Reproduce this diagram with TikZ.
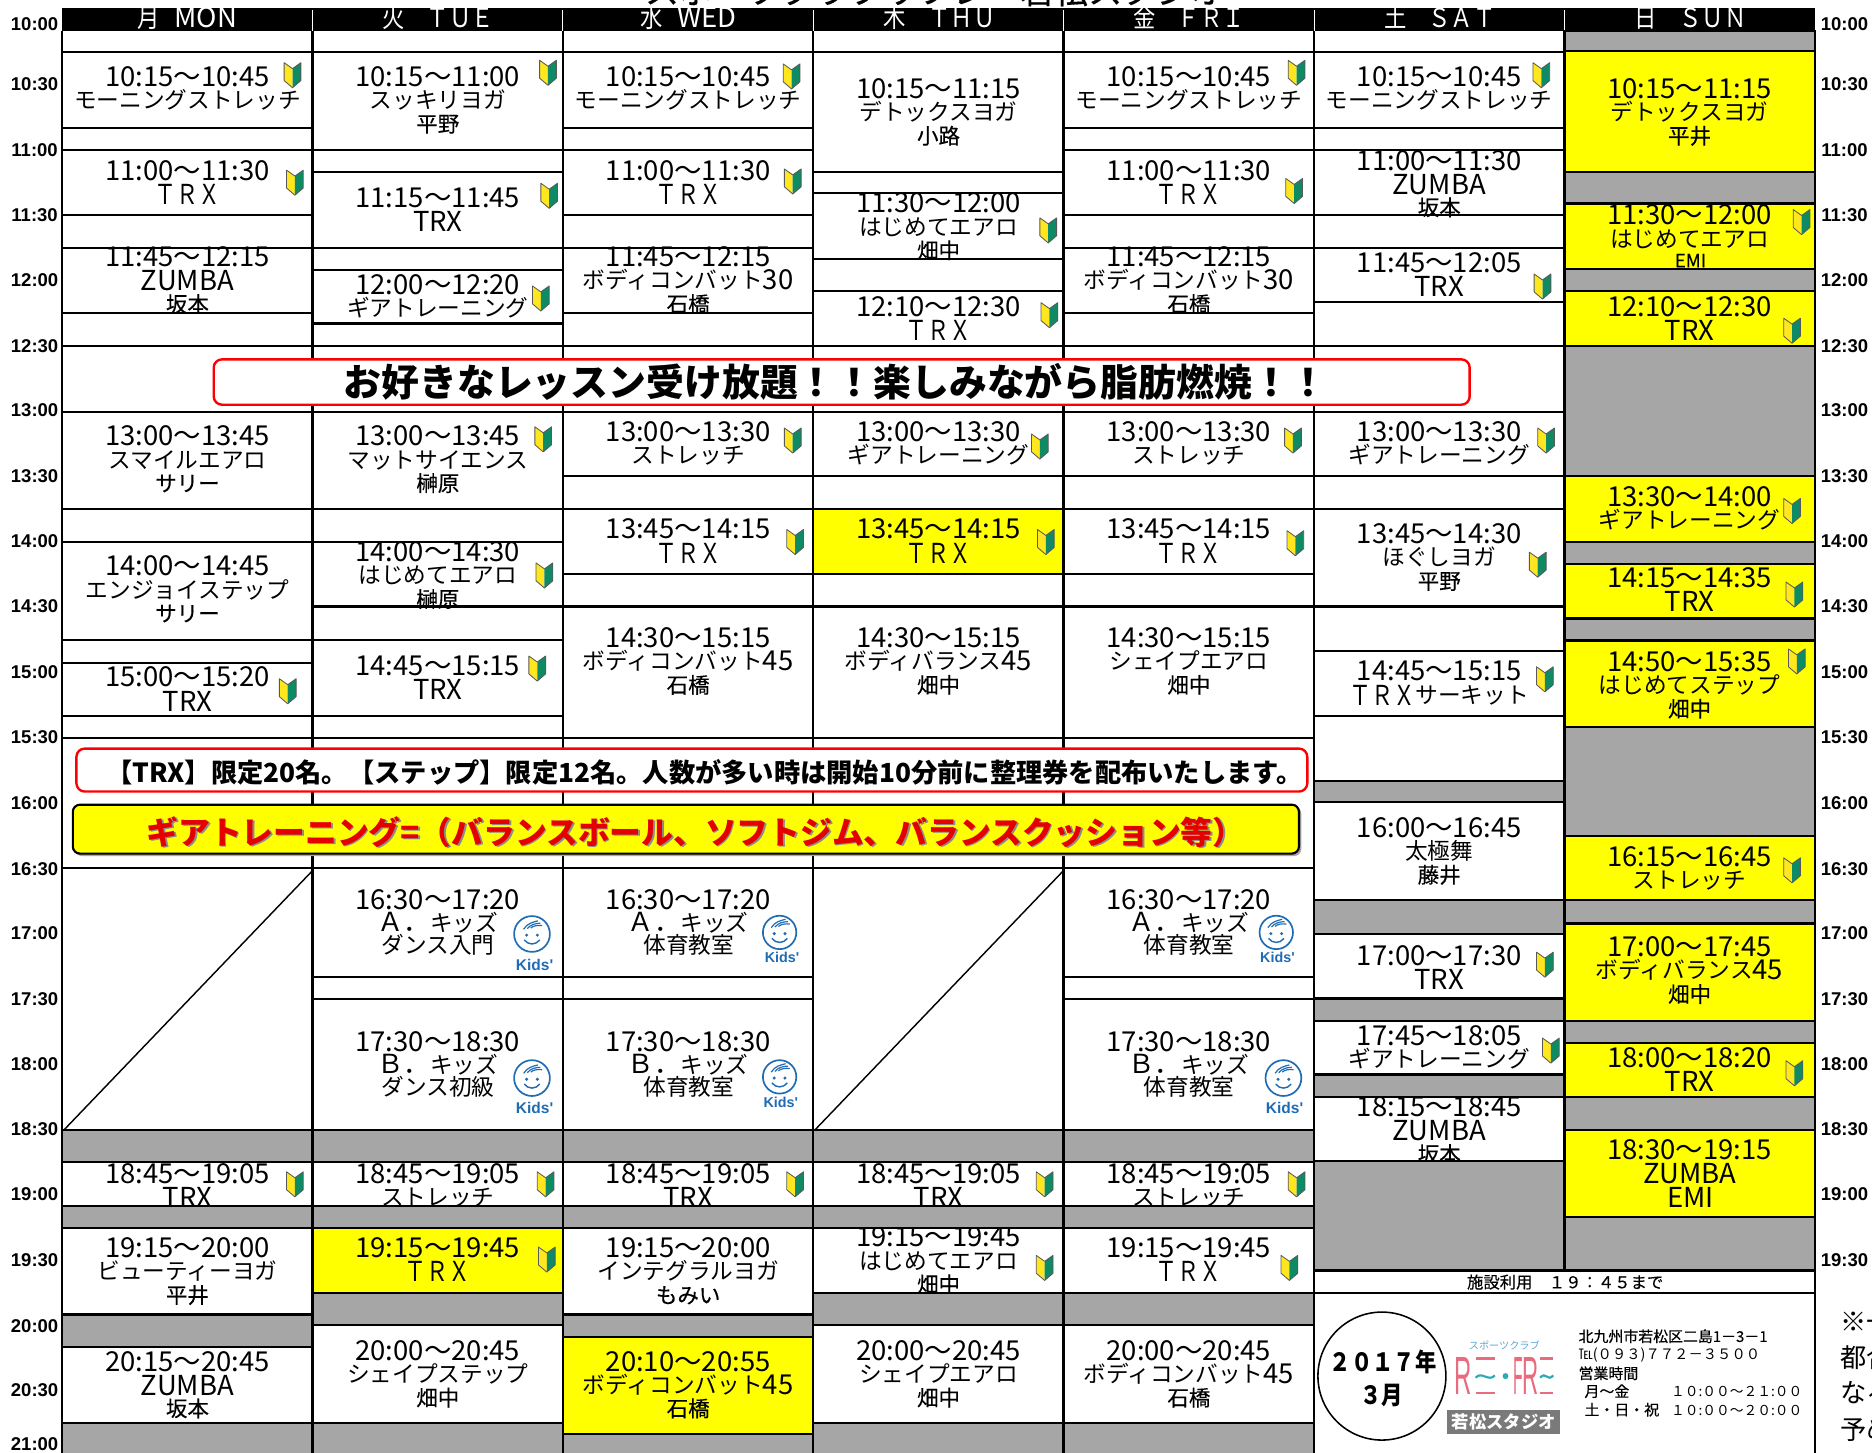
\documentclass[tikz,border=0pt]{standalone}
\usepackage{fontspec}
\setmainfont{Noto Sans CJK JP}
\newfontfamily\latf{Liberation Sans}
\newfontfamily\insf[FakeBold=0.35]{Noto Sans CJK JP}
\definecolor{grayc}{HTML}{A6A6A6}
\definecolor{yelc}{HTML}{FFFF00}
\definecolor{wky}{HTML}{FFE61E}
\definecolor{wkg}{HTML}{0E8A64}
\definecolor{kidb}{HTML}{1F6CB4}
\definecolor{pinkc}{HTML}{E96C7E}
\definecolor{tealc}{HTML}{2FA9B5}
\definecolor{lblue}{HTML}{5FA8D8}
\tikzset{
 rule/.style={line width=1.8pt,black},
 tm/.style={anchor=base,inner sep=0pt,font=\fontsize{23}{23}\selectfont},
 nm/.style={anchor=base,inner sep=0pt,font=\fontsize{19}{19}\selectfont},
 ins/.style={anchor=base,inner sep=0pt,font=\insf\fontsize{18}{18}\selectfont},
 lab/.style={anchor=center,inner sep=0pt,font=\latf\bfseries\fontsize{15.5}{15.5}\selectfont},
 day/.style={anchor=base,inner sep=0pt,text=white,font=\fontsize{22}{22}\selectfont},
 addr/.style={anchor=base west,inner sep=0pt,font=\insf\fontsize{12.5}{12.5}\selectfont},
}
\newcommand\Lt[1]{\raisebox{-1.6pt}{\fontsize{23}{23}\selectfont #1}}
\newcommand\FW[1]{\raisebox{-1.6pt}{\scalebox{.8}[1]{\fontsize{23}{23}\selectfont #1}}}
\newcommand\Dg[1]{\raisebox{-.8pt}{\fontsize{23}{23}\selectfont #1}}
\newcommand\Kt[1]{{\fontsize{22}{22}\selectfont #1}}
\newcommand\ctw[3]{%
 \node[tm] at ({157+209.7*(#1-1)},#2+8.4) {#3};}
\newcommand\cb[4]{\ctw{#1}{#2}{#3}\node[nm] at ({157+209.7*(#1-1)},#2+27) {#4};}
\newcommand\cc[5]{\cb{#1}{#2}{#3}{#4}\node[ins] at ({157+209.7*(#1-1)},#2+46.5) {#5};}
\newcommand\wk[2]{\begin{scope}[shift={(#1,#2)}]
 \fill[wky] (-7,-10.5)--(0,-5.5)--(0,10.5)--(-7,4.5)--cycle;
 \fill[wkg] (7,-10.5)--(0,-5.5)--(0,10.5)--(7,4.5)--cycle;
 \draw[black!65,line width=.7pt,line join=round] (-7,-10.5)--(0,-5.5)--(7,-10.5)--(7,4.5)--(0,10.5)--(-7,4.5)--cycle;
\end{scope}}
\newcommand\kid[6]{% cx cy r kx ky
 \begin{scope}[shift={(#1,#2)},kidb]
 \draw[line width=1.4pt] (0,0) circle (#3);
 \draw[line width=1pt] (-7,-4) .. controls (-4,-9) and (1,-10) .. (5,-11);
 \draw[line width=1pt] (-4,-4.5) .. controls (-1,-8) and (3,-9) .. (7,-9);
 \draw[line width=1pt] (-1,-5) .. controls (1,-7) and (5,-7.5) .. (8.5,-7);
 \fill (-4.5,1) circle (1.4); \fill (4.5,1) circle (1.4);
 \draw[line width=1.2pt] (-6.5,5) .. controls (-3,9.5) and (3,9.5) .. (6.5,5);
 \end{scope}
 \node[anchor=center,inner sep=0pt,text=kidb,font=\latf\bfseries\fontsize{#6}{#6}\selectfont] at (#4,#5) {Kids'};}
\def\Ylist{7/43/144,7/170.5/225.6,7/244/289.5,7/398.6/454,7/472.5/518,7/536.5/609,7/700/754,7/773.5/855,7/873.5/919,7/946.7/1019.5,4/426/481,2/1028.3/1083,3/1119.6/1201}
\def\Wlist{1/43.3/107,1/125.6/180,1/207.5/262,1/345/426,1/454/536,1/555/600,1/973.6/1010,1/1028.3/1101,1/1128/1192,
2/43.3/125.6,2/144/207.5,2/226/271,2/345/426,2/454/508,2/536/600,2/727/818,2/836.5/946.6,2/973.6/1010,2/1110/1192,
3/43.3/107,3/125.6/180,3/207.5/262,3/345/398.6,3/426/481,3/508/618,3/727/818,3/836.5/946.6,3/973.6/1010,3/1028.3/1101,
4/43.3/144,4/162/217,4/244/289.5,4/345/398.6,4/508/618,4/973.6/1010,4/1028.3/1083,4/1110/1192,
5/43.3/107,5/125.6/180,5/207.5/262,5/345/398.6,5/426/481,5/508/618,5/727/818,5/836.5/946.6,5/973.6/1010,5/1028.3/1083,5/1110/1192,
6/43.3/107,6/125.6/180,6/207.5/253,6/345/398.6,6/426/508,6/545/600,6/672/754,6/782/836.4,6/855.5/900,6/919/972.8}
\def\Glist{1/946.6/973.6,2/946.6/973.6,3/946.6/973.6,4/946.6/973.6,5/946.6/973.6,
1/1010/1028.3,2/1010/1028.3,3/1010/1028.3,4/1010/1028.3,5/1010/1028.3,
1/1101/1128,2/1083/1110,3/1101/1119.6,4/1083/1110,5/1083/1110,
1/1192/1230,2/1192/1230,3/1201/1230,4/1192/1230,5/1192/1230,
6/654/672,6/754/782,6/836.4/855.5,6/900/919,6/972.8/1064,
7/26/43,7/144/170.5,7/225.6/244,7/289.5/398.6,7/454/472.5,7/518/536.5,7/609/700,7/754/773.5,7/855/873.5,7/919/946.7,7/1019.5/1064}
\begin{document}
\begin{tikzpicture}[x=1pt,y=-1pt]
\clip (0,0) rectangle (1568,1217);
\fill[white] (0,0) rectangle (1568,1217);
% clipped title above the header
\node[anchor=base,inner sep=0pt,font=\insf\fontsize{28.6}{28.6}\selectfont] at (783,3) {スポーツクラブリフレ　若松スタジオ};
% header band
\fill[black] (52,7) rectangle (1520,26);
\foreach \i in {1,...,6}{\draw[white,line width=.6pt] ({52+209.7*\i},8) -- ({52+209.7*\i},26);}
\node[day] at (157,23) {\scalebox{.85}[1]{月}\hspace{.55em}{\fontsize{23}{23}\selectfont MON}};
\node[day] at (367,23) {\scalebox{.85}[1]{火　ＴＵＥ}};
\node[day] at (577,23) {\scalebox{.85}[1]{水}\hspace{.55em}{\fontsize{23}{23}\selectfont WED}};
\node[day] at (787,23) {\scalebox{.85}[1]{木　ＴＨＵ}};
\node[day] at (996,23) {\scalebox{.85}[1]{金　ＦＲＩ}};
\node[day] at (1206,23) {\scalebox{.85}[1]{土　ＳＡＴ}};
\node[day] at (1416,23) {\scalebox{.85}[1]{日　ＳＵＮ}};
% time labels
\foreach \t/\y in {10:00/20.6,10:30/70.6,11:00/125.6,11:30/180.6,12:00/234.6,12:30/289.6,13:00/343.6,13:30/398.6,14:00/453.6,14:30/507.6,15:00/562.6,15:30/617.6,16:00/672.6,16:30/727.6,17:00/781.6,17:30/836.6,18:00/891.6,18:30/945.6,19:00/1000.6,19:30/1055.6,20:00/1110.6,20:30/1164.6,21:00/1209.6}{
 \node[lab] at (29,\y) {\t};}
\foreach \t/\y in {10:00/20.6,10:30/70.6,11:00/125.6,11:30/180.6,12:00/234.6,12:30/289.6,13:00/343.6,13:30/398.6,14:00/453.6,14:30/507.6,15:00/562.6,15:30/617.6,16:00/672.6,16:30/727.6,17:00/781.6,17:30/836.6,18:00/891.6,18:30/945.6,19:00/1000.6,19:30/1055.6}{
 \node[lab] at (1545,\y) {\t};}
% yellow fills
\foreach \c/\t/\b in \Ylist {\fill[yelc] ({52+209.7*(\c-1)},\t) rectangle ({52+209.7*\c},\b);}
% Monday
\cb{1}{64}{10:15～10:45}{モーニングストレッチ}
\cb{1}{143}{11:00～11:30}{\FW{ＴＲＸ}}
\cc{1}{215}{11:45～12:15}{\Lt{ZUMBA}}{坂本}
\cc{1}{365}{13:00～13:45}{スマイルエアロ}{サリー}
\cc{1}{474}{14:00～14:45}{エンジョイステップ}{サリー}
\cb{1}{567}{15:00～15:20}{\Lt{TRX}}
\cb{1}{983}{18:45～19:05}{\Lt{TRX}}
\cc{1}{1045}{19:15～20:00}{ビューティーヨガ}{平井}
\cc{1}{1140}{20:15～20:45}{\Lt{ZUMBA}}{坂本}
% Tuesday
\cc{2}{64}{10:15～11:00}{スッキリヨガ}{平野}
\cb{2}{165}{11:15～11:45}{\Lt{TRX}}
\cb{2}{238}{12:00～12:20}{ギアトレーニング}
\cc{2}{365}{13:00～13:45}{マットサイエンス}{榊原}
\cc{2}{462}{14:00～14:30}{はじめてエアロ}{榊原}
\cb{2}{557}{14:45～15:15}{\Lt{TRX}}
\cb{2}{753}{16:30～17:20}{\Kt{Ａ．}キッズ}
\node[nm] at (367,799) {ダンス入門};
\cb{2}{872}{17:30～18:30}{\Kt{Ｂ．}キッズ}
\node[nm] at (367,918) {ダンス初級};
\cb{2}{983}{18:45～19:05}{ストレッチ}
\cb{2}{1045}{19:15～19:45}{\FW{ＴＲＸ}}
\cc{2}{1131}{20:00～20:45}{シェイプステップ}{畑中}
% Wednesday
\cb{3}{64}{10:15～10:45}{モーニングストレッチ}
\cb{3}{143}{11:00～11:30}{\FW{ＴＲＸ}}
\cc{3}{215}{11:45～12:15}{ボディコンバット\Dg{30}}{石橋}
\cb{3}{361}{13:00～13:30}{ストレッチ}
\cb{3}{443}{13:45～14:15}{\FW{ＴＲＸ}}
\cc{3}{534}{14:30～15:15}{ボディコンバット\Dg{45}}{石橋}
\cb{3}{753}{16:30～17:20}{\Kt{Ａ．}キッズ}
\node[nm] at (577,799) {体育教室};
\cb{3}{872}{17:30～18:30}{\Kt{Ｂ．}キッズ}
\node[nm] at (577,918) {体育教室};
\cb{3}{983}{18:45～19:05}{\Lt{TRX}}
\cc{3}{1045}{19:15～20:00}{インテグラルヨガ}{もみい}
\cc{3}{1140}{20:10～20:55}{ボディコンバット\Dg{45}}{石橋}
% Thursday
\cc{4}{74}{10:15～11:15}{デトックスヨガ}{小路}
\cc{4}{170}{11:30～12:00}{はじめてエアロ}{畑中}
\cb{4}{257}{12:10～12:30}{\FW{ＴＲＸ}}
\cb{4}{361}{13:00～13:30}{ギアトレーニング}
\cb{4}{443}{13:45～14:15}{\FW{ＴＲＸ}}
\cc{4}{534}{14:30～15:15}{ボディバランス\Dg{45}}{畑中}
\cb{4}{983}{18:45～19:05}{\Lt{TRX}}
\cc{4}{1036}{19:15～19:45}{はじめてエアロ}{畑中}
\cc{4}{1131}{20:00～20:45}{シェイプエアロ}{畑中}
% Friday
\cb{5}{64}{10:15～10:45}{モーニングストレッチ}
\cb{5}{143}{11:00～11:30}{\FW{ＴＲＸ}}
\cc{5}{215}{11:45～12:15}{ボディコンバット\Dg{30}}{石橋}
\cb{5}{361}{13:00～13:30}{ストレッチ}
\cb{5}{443}{13:45～14:15}{\FW{ＴＲＸ}}
\cc{5}{534}{14:30～15:15}{シェイプエアロ}{畑中}
\cb{5}{753}{16:30～17:20}{\Kt{Ａ．}キッズ}
\node[nm] at (996,799) {体育教室};
\cb{5}{872}{17:30～18:30}{\Kt{Ｂ．}キッズ}
\node[nm] at (996,918) {体育教室};
\cb{5}{983}{18:45～19:05}{ストレッチ}
\cb{5}{1045}{19:15～19:45}{\FW{ＴＲＸ}}
\cc{5}{1131}{20:00～20:45}{ボディコンバット\Dg{45}}{石橋}
% Saturday
\cb{6}{64}{10:15～10:45}{モーニングストレッチ}
\cc{6}{134}{11:00～11:30}{\Lt{ZUMBA}}{坂本}
\cb{6}{220}{11:45～12:05}{\Lt{TRX}}
\cb{6}{361}{13:00～13:30}{ギアトレーニング}
\cc{6}{447}{13:45～14:30}{ほぐしヨガ}{平野}
\cb{6}{562}{14:45～15:15}{\FW{ＴＲＸ}サーキット}
\cc{6}{693}{16:00～16:45}{太極舞}{藤井}
\cb{6}{800}{17:00～17:30}{\Lt{TRX}}
\cb{6}{867}{17:45～18:05}{ギアトレーニング}
\cc{6}{927}{18:15～18:45}{\Lt{ZUMBA}}{坂本}
% Sunday
\cc{7}{74}{10:15～11:15}{デトックスヨガ}{平井}
\cb{7}{180}{11:30～12:00}{はじめてエアロ}
\node[anchor=base,inner sep=0pt,font=\insf\fontsize{15.5}{15.5}\selectfont] at (1416,224) {EMI};
\cb{7}{257}{12:10～12:30}{\Lt{TRX}}
\cb{7}{416}{13:30～14:00}{ギアトレーニング}
\cb{7}{484}{14:15～14:35}{\Lt{TRX}}
\cc{7}{554}{14:50～15:35}{はじめてステップ}{畑中}
\cb{7}{717}{16:15～16:45}{ストレッチ}
\cc{7}{793}{17:00～17:45}{ボディバランス\Dg{45}}{畑中}
\cb{7}{886}{18:00～18:20}{\Lt{TRX}}
\cb{7}{963}{18:30～19:15}{\Lt{ZUMBA}}
\node[tm] at (1416,1011) {EMI};
% gray cells
\foreach \c/\t/\b in \Glist {\draw[rule,fill=grayc] ({52+209.7*(\c-1)},\t) rectangle ({52+209.7*\c},\b);}
% cell outlines
\foreach \c/\t/\b in \Ylist {\draw[rule] ({52+209.7*(\c-1)},\t) rectangle ({52+209.7*\c},\b);}
\foreach \c/\t/\b in \Wlist {\draw[rule] ({52+209.7*(\c-1)},\t) rectangle ({52+209.7*\c},\b);}
% full rules
\draw[rule] (52,289.5) -- (1311,289.5);
\draw[rule] (52,345) -- (1311,345);
\draw[rule] (52,618) -- (1101,618);
\draw[rule] (52,727) -- (891,727);
\draw[rule] (52,26) -- (52,1217);
\foreach \x in {261.7,471.4,681.1,890.8,1100.5,1520}{\draw[rule] (\x,26) -- (\x,1217);}
\draw[rule] (1310.5,26) -- (1310.5,1064);
% diagonals
\draw[line width=1.2pt] (54,946) -- (262,729);
\draw[line width=1.2pt] (683,946) -- (891,729);
% wakaba marks
\foreach \x/\y in {245/63,247/153,241/579,247/992,
 459/61,460/164,453/250,455/368,456/482,450/560,457/992,458/1055,
 663/64,664/152,664/369,666/454,666/992,
 878/193,879/264,871/374,876/454,875/992,875/1062,
 1086/61,1084/160,1083/369,1085/455,1086/992,1080/1062,
 1291/63,1292/240,1295/369,1288/473,1294/569,1294/808,1299/880,
 1509/186,1501/277,1501/428,1503/498,1505/554,1501/729,1503/899}{\wk{\x}{\y}}
% kids marks
\kid{445.6}{782.3}{15}{447.8}{808}{13}
\kid{445.6}{903}{15}{447.8}{928}{13}
\kid{653}{781}{14}{655}{802}{12}
\kid{653}{902}{14}{654}{923}{12}
\kid{1069}{781}{14}{1070}{802}{12}
\kid{1075}{903}{15}{1076}{928}{13}
% banner
\draw[red,line width=2pt,rounded corners=7pt,fill=white] (179,301) rectangle (1231,339);
\node[anchor=base,inner sep=0pt,font=\bfseries\fontsize{31.7}{31.7}\selectfont] at (700,332) {お好きなレッスン受け放題！！楽しみながら脂肪燃焼！！};
\draw[red,line width=2pt,rounded corners=7pt,fill=white] (64,627) rectangle (1095,663);
\node[anchor=base,inner sep=0pt,font=\bfseries\fontsize{22}{22}\selectfont] at (590,655.5) {【TRX】限定20名。【ステップ】限定12名。人数が多い時は開始10分前に整理券を配布いたします。};
\fill[black!35,rounded corners=6pt] (62.5,675.5) rectangle (1090,717);
\draw[black,line width=1.8pt,rounded corners=6pt,fill=yelc] (61,674) rectangle (1088,715);
\node[anchor=base,inner sep=0pt,text=black!45,font=\bfseries\fontsize{26.6}{26.6}\selectfont] at (584,708.5) {ギアトレーニング=（バランスボール、ソフトジム、バランスクッション等）};
\node[anchor=base,inner sep=0pt,text={red!90!black},font=\bfseries\fontsize{26.6}{26.6}\selectfont] at (582.5,707) {ギアトレーニング=（バランスボール、ソフトジム、バランスクッション等）};
% footer
\fill[white] (1102,1065) rectangle (1519,1217);
\draw[rule] (1100.5,1064.3) -- (1520,1064.3);
\draw[line width=1.1pt] (1100.5,1083) -- (1520,1083);
\node[anchor=center,inner sep=0pt,font=\insf\fontsize{13.7}{13.7}\selectfont] at (1311,1073.9) {施設利用　１９：４５まで};
\draw[line width=1.3pt] (1157.5,1152.6) circle (53.6);
\node[anchor=center,inner sep=0pt,font=\bfseries\fontsize{21}{21}\selectfont] at (1158.5,1140.5) {\scalebox{.85}[1]{２０１７年}};
\node[anchor=center,inner sep=0pt,font=\bfseries\fontsize{21}{21}\selectfont] at (1157.5,1168.5) {\scalebox{.85}[1]{３月}};
% logo
\node[anchor=center,inner sep=0pt,text=lblue,font=\itshape\fontsize{8.5}{8.5}\selectfont] at (1260,1127) {スポーツクラブ};
\node[anchor=base,inner sep=0pt,text=pinkc] at (1225.8,1168.4) {\resizebox{14.5pt}{31pt}{\latf R}};
\node[anchor=base,inner sep=0pt,text=pinkc] at (1271.5,1168.4) {\resizebox{8pt}{31pt}{\latf F}};
\node[anchor=base,inner sep=0pt,text=pinkc] at (1282,1168.4) {\resizebox{13.5pt}{31pt}{\latf R}};
\foreach \a/\b in {1236/1252,1290/1301}{
 \draw[pinkc,line width=2.2pt] (\a,1137.8) -- (\b,1137.8);
 \draw[pinkc,line width=2.2pt] (\a,1166.7) -- (\b,1166.7);
 \draw[tealc,line width=1.8pt] (\a,1154) .. controls (\a+5,1148) and (\b-5,1158) .. (\b,1152);}
\fill[tealc] (1261,1152.6) circle (2.5);
\fill[black!52] (1212,1181) rectangle (1307,1201);
\node[anchor=center,inner sep=0pt,text=white,font=\bfseries\fontsize{14.5}{14.5}\selectfont] at (1259.5,1191) {若松スタジオ};
% address
\node[addr] at (1322,1124) {北九州市若松区二島1－3－1};
\node[addr,font=\fontsize{12}{12}\selectfont] at (1322,1138.5) {℡(０９３)７７２－３５００};
\node[addr] at (1322,1155) {営業時間};
\node[addr] at (1327,1170) {月～金};
\node[addr,font=\fontsize{11.5}{11.5}\selectfont] at (1399.5,1170) {１０:００～２１:００};
\node[addr] at (1327,1185.5) {土・日・祝};
\node[addr,font=\fontsize{11.5}{11.5}\selectfont] at (1399.5,1185.5) {１０:００～２０:００};
% clipped note at right
\foreach \y/\s in {1115/※一部、,1145.5/都合により,1175/なる場合が,1206/予めご了承}{
 \node[anchor=base west,inner sep=0pt,font=\fontsize{22}{22}\selectfont] at (1541,\y) {\s};}
\end{tikzpicture}
\end{document}
